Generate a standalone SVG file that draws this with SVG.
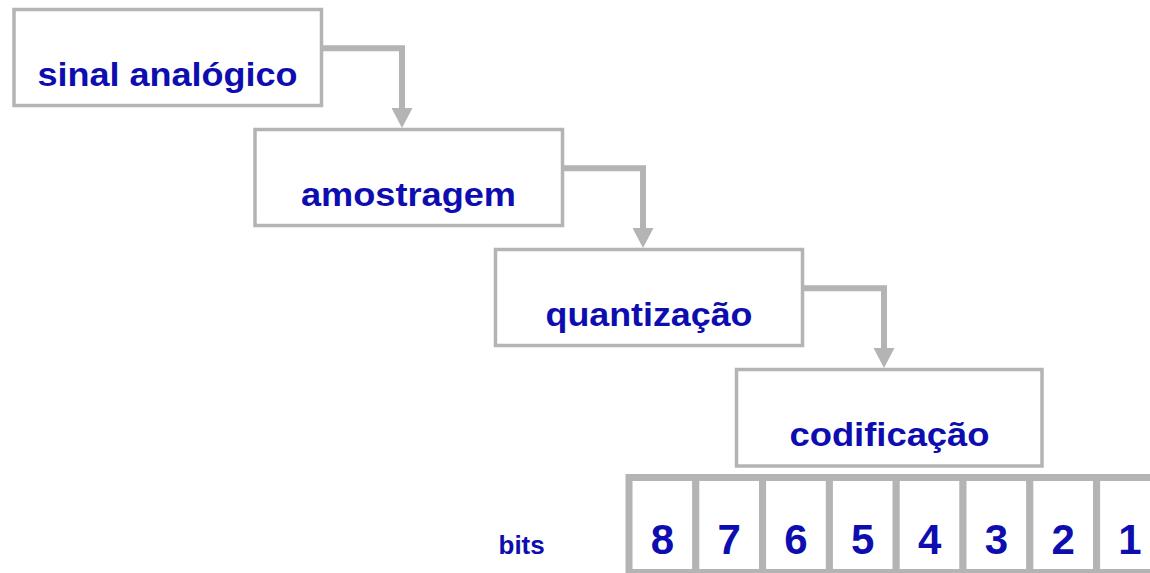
<svg xmlns="http://www.w3.org/2000/svg" width="1150" height="573" viewBox="0 0 1150 573">
  <style>
    .box { fill: #ffffff; stroke: #b4b4b4; stroke-width: 3.5; }
    .lbl { font-family: "Liberation Sans", Arial, sans-serif; font-weight: bold; font-size: 34px; fill: #0d0db0; text-anchor: middle; }
    .conn { fill: none; stroke: #b4b4b4; stroke-width: 6; stroke-linejoin: miter; }
    .cell { fill: #ffffff; stroke: #b4b4b4; stroke-width: 7; }
    .dig { font-family: "Liberation Sans", Arial, sans-serif; font-weight: bold; font-size: 42px; fill: #0d0db0; text-anchor: middle; }
    .bits { font-family: "Liberation Sans", Arial, sans-serif; font-weight: bold; font-size: 26px; fill: #0d0db0; }
  </style>
  <defs>
    <marker id="arrow" viewBox="0 0 20 21" markerWidth="20" markerHeight="21" refX="0" refY="10.5" orient="auto" markerUnits="userSpaceOnUse">
      <path d="M0,0 L20,10.5 L0,21 z" fill="#b4b4b4"/>
    </marker>
  </defs>
  <rect width="1150" height="573" fill="#ffffff"/>

  <g id="connectors">
    <path class="conn" d="M321.5,48.3 H402 V108" marker-end="url(#arrow)"/>
    <path class="conn" d="M562.5,168.3 H643 V228" marker-end="url(#arrow)"/>
    <path class="conn" d="M802.5,288.3 H884 V348" marker-end="url(#arrow)"/>
  </g>

  <g id="node-sinal">
    <rect class="box" x="14" y="9.5" width="307.5" height="96"/>
    <text class="lbl" x="167.5" y="86" textLength="260" lengthAdjust="spacingAndGlyphs">sinal analógico</text>
  </g>
  <g id="node-amostragem">
    <rect class="box" x="255" y="129.5" width="307.5" height="96"/>
    <text class="lbl" x="408.5" y="206" textLength="215" lengthAdjust="spacingAndGlyphs">amostragem</text>
  </g>
  <g id="node-quantizacao">
    <rect class="box" x="495.5" y="249.5" width="307" height="96"/>
    <text class="lbl" x="649" y="326" textLength="207" lengthAdjust="spacingAndGlyphs">quantização</text>
  </g>
  <g id="node-codificacao">
    <rect class="box" x="736.5" y="369.5" width="305.5" height="96.5"/>
    <text class="lbl" x="889.5" y="446" textLength="200" lengthAdjust="spacingAndGlyphs">codificação</text>
  </g>

  <g id="bits-register">
    <rect class="cell" x="629" y="477.5" width="66.8" height="95"/>
    <rect class="cell" x="695.8" y="477.5" width="66.8" height="95"/>
    <rect class="cell" x="762.6" y="477.5" width="66.8" height="95"/>
    <rect class="cell" x="829.4" y="477.5" width="66.8" height="95"/>
    <rect class="cell" x="896.2" y="477.5" width="66.8" height="95"/>
    <rect class="cell" x="963" y="477.5" width="66.8" height="95"/>
    <rect class="cell" x="1029.8" y="477.5" width="66.8" height="95"/>
    <rect class="cell" x="1096.6" y="477.5" width="66.8" height="95"/>
    <text class="dig" x="662.4" y="554">8</text>
    <text class="dig" x="729.2" y="554">7</text>
    <text class="dig" x="796" y="554">6</text>
    <text class="dig" x="862.8" y="554">5</text>
    <text class="dig" x="929.6" y="554">4</text>
    <text class="dig" x="996.4" y="554">3</text>
    <text class="dig" x="1063.2" y="554">2</text>
    <text class="dig" x="1130" y="554">1</text>
  </g>
  <g id="bits-label">
    <text class="bits" x="498.5" y="554">bits</text>
  </g>
</svg>
